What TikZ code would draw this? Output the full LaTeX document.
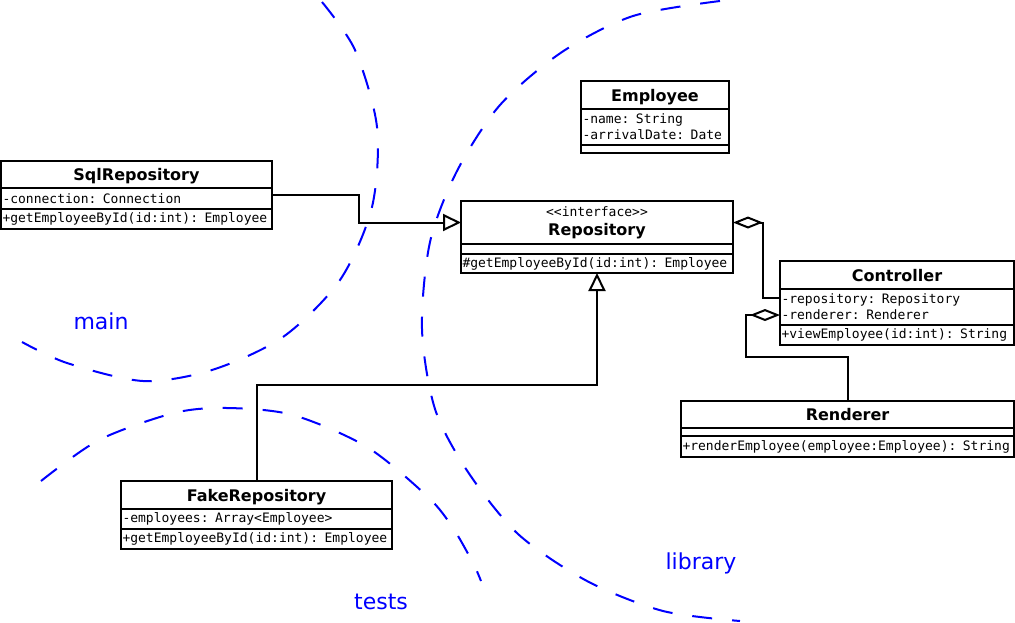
\documentclass[tikz,border=0pt]{standalone}
\usepackage{fontspec}
\setmainfont{DejaVu Sans}
\newfontfamily\umlmono{DejaVu Sans Mono}
\usetikzlibrary{arrows.meta,positioning}

\begin{document}
\begin{tikzpicture}[x=1pt, y=-1pt, line join=miter,
	classbox/.style={draw, fill=white, line width=2pt, inner sep=0pt, outer sep=0pt, anchor=north west},
	titlebox/.style={classbox, font=\fontsize{16}{19}\selectfont\bfseries, align=center, text height=12pt, text depth=0pt},
	rowbox/.style={classbox, font=\umlmono\fontsize{13}{16}\selectfont, align=left, inner xsep=1.5pt, minimum width=#1, text width=#1-3pt},
	realize/.style={line width=2pt, -{Triangle[open, length=18pt, width=17pt, fill=white]}},
	aggregate/.style={line width=2pt, {Diamond[open, length=30pt, width=12pt, fill=white]}-},
	boundary/.style={blue, line width=2pt, dash pattern=on 20pt off 20pt},
	region/.style={blue, anchor=base, font=\fontsize{22}{26}\selectfont}]
		\useasboundingbox (0,0) rectangle (1015,622);
		
		\draw[boundary] plot[smooth] coordinates {(322,2) (355,50) (377,127) (372,207) (340,280) (283,337) (212,370) (143,381) (67,363) (22,342)};
		\draw[boundary] plot[smooth] coordinates {(41,481) (99,440) (174,413) (227,408) (293,415) (367,447) (428,497) (453,528) (473,563) (481,581)};
		\draw[boundary] plot[smooth] coordinates {(720,1) (633,16) (562,52) (500,105) (457,171) (430,242) (422,329) (435,409) (468,472) (518,534) (587,581) (663,611) (740,621)};
		
		\foreach \n/\x/\y in {main/101/329, tests/381/609, library/701/569}
			\node[region] (\n) at (\x,\y) {\n};
		
		\node[titlebox, minimum width=271, minimum height=27] (sqlT) at (1,161) {SqlRepository};
		\node[rowbox=271, minimum height=21] (sqlA) at (sqlT.south west) {-connection: Connection};
		\node[rowbox=271, minimum height=20] (sqlO) at (sqlA.south west) {+getEmployeeById(id:int): Employee};
		
		\node[titlebox, text height={}, text depth={}, minimum width=272, minimum height=43] (repoT) at (461,201) {{\umlmono\mdseries\fontsize{13}{15}\selectfont <<interface>>}\\Repository};
		\node[rowbox=272, minimum height=10] (repoA) at (repoT.south west) {};
		\node[rowbox=272, minimum height=19] (repoO) at (repoA.south west) {\#getEmployeeById(id:int): Employee};
		
		\node[titlebox, minimum width=148, minimum height=28] (empT) at (581,81) {Employee};
		\node[rowbox=148, minimum height=36] (empA) at (empT.south west) {-name: String\\-arrivalDate: Date};
		\node[rowbox=148, minimum height=8] (empO) at (empA.south west) {};
		
		\node[titlebox, minimum width=234, minimum height=28] (ctrlT) at (780,261) {Controller};
		\node[rowbox=234, minimum height=36] (ctrlA) at (ctrlT.south west) {-repository: Repository\\-renderer: Renderer};
		\node[rowbox=234, minimum height=20] (ctrlO) at (ctrlA.south west) {+viewEmployee(id:int): String};
		
		\node[titlebox, minimum width=333, minimum height=27] (rendT) at (681,401) {Renderer};
		\node[rowbox=333, minimum height=8] (rendA) at (rendT.south west) {};
		\node[rowbox=333, minimum height=21] (rendO) at (rendA.south west) {+renderEmployee(employee:Employee): String};
		
		\node[titlebox, minimum width=271, minimum height=28] (fakeT) at (121,481) {FakeRepository};
		\node[rowbox=271, minimum height=20] (fakeA) at (fakeT.south west) {-employees: Array<Employee>};
		\node[rowbox=271, minimum height=20] (fakeO) at (fakeA.south west) {+getEmployeeById(id:int): Employee};
		
		\coordinate (fakeBend) at ([yshift=-112pt]repoO.south);
		\draw[realize] ([yshift=3.5pt]sqlA.east) -- ++(87,0) |- (repoT.west);
		\draw[realize] (fakeT.north) |- (fakeBend) -- (repoO.south);
		
		\draw[aggregate] (repoT.east) -- ++(30,0) |- ([yshift=9pt]ctrlA.west);
		\draw[aggregate] ([yshift=-8pt]ctrlA.west) -- ++(-34,0) |- ([yshift=44pt]rendT.north) -- (rendT.north);
		
	\end{tikzpicture}
\end{document}
